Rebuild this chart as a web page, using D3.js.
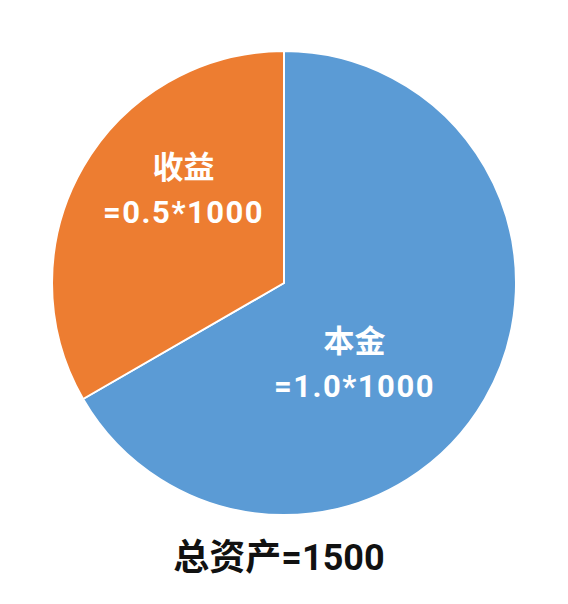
<!DOCTYPE html>
<html>
<head>
<meta charset="utf-8">
<script src="https://cdn.jsdelivr.net/npm/d3@7"></script>
<style>
  body { margin: 0; background: #fff; }
  text { font-family: Roboto, "Noto Sans CJK SC", sans-serif; font-weight: bold; }
</style>
</head>
<body>
<svg id="chart"></svg>
<script>
// slices, clockwise from 12 o'clock
const categories = ['本金', '收益'];
const values = [1000, 500];
const formulas = ['=1.0*1000', '=0.5*1000'];
const colors = ['#5b9bd5', '#ed7d31'];
const total = d3.sum(values);
const title = '总资产=' + total;

const width = 568, height = 604;
const cx = 284, cy = 283, radius = 232;

const svg = d3.select('#chart')
  .attr('width', width)
  .attr('height', height);

const g = svg.append('g')
  .attr('transform', `translate(${cx}, ${cy})`);

const pie = d3.pie().sort(null).value(d => d);
const arc = d3.arc().innerRadius(0).outerRadius(radius);
const labelArc = d3.arc().innerRadius(0).outerRadius(radius * 0.95);

const color = d3.scaleOrdinal().domain(categories).range(colors);

const arcs = g.selectAll('g.slice')
  .data(pie(values))
  .enter()
  .append('g')
  .attr('class', 'slice');

arcs.append('path')
  .attr('d', arc)
  .attr('fill', (d, i) => color(categories[i]))
  .attr('stroke', '#fff')
  .attr('stroke-width', 2)
  .attr('stroke-linejoin', 'round');

// small nudges so labels sit like in the original
const labelNudge = [[-25, 25], [-5, -39]];

const labels = arcs.append('text')
  .attr('transform', (d, i) => {
    const c = labelArc.centroid(d);
    return `translate(${c[0] + labelNudge[i][0]}, ${c[1] + labelNudge[i][1]})`;
  })
  .attr('text-anchor', 'middle')
  .attr('fill', '#fff')
  .attr('font-size', 31);

labels.append('tspan')
  .attr('x', 0)
  .attr('dy', '-0.35em')
  .text((d, i) => categories[i]);

labels.append('tspan')
  .attr('x', 0)
  .attr('dy', '1.45em')
  .attr('letter-spacing', 1.5)
  .text((d, i) => formulas[i]);

svg.append('text')
  .attr('x', 279)
  .attr('y', 570)
  .attr('text-anchor', 'middle')
  .attr('fill', '#111')
  .attr('font-size', 36)
  .text(title);
</script>
</body>
</html>
